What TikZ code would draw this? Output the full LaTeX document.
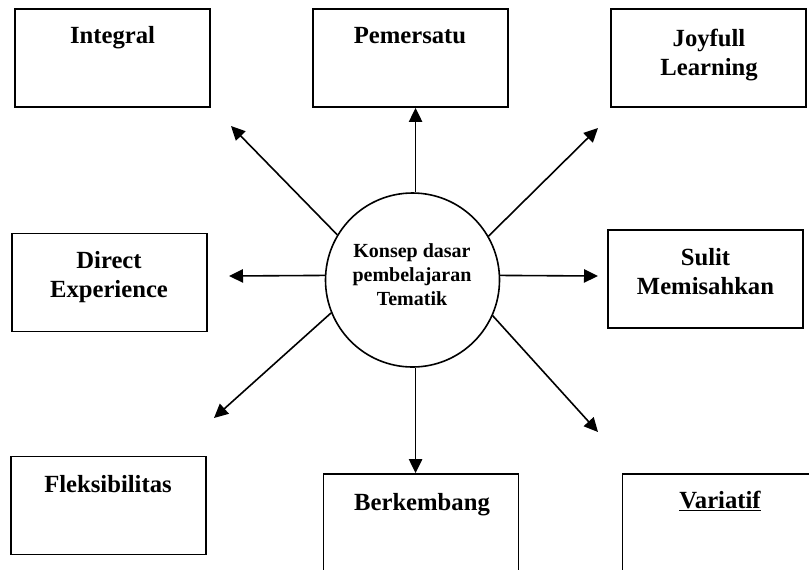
\documentclass[tikz,border=0pt]{standalone}
\usepackage{fontspec}
\setmainfont{Liberation Serif}
\usetikzlibrary{arrows.meta}
\begin{document}
\begin{tikzpicture}[x=0.75pt,y=-0.75pt,
  box/.style={draw,line width=1.4pt,rectangle,minimum width=146.25pt,minimum height=73.5pt,inner sep=0pt},
  lbl/.style={font=\bfseries\fontsize{18.5}{21.5}\selectfont,align=center,inner sep=0pt,anchor=base},
  ctext/.style={font=\bfseries\fontsize{15}{18}\selectfont,align=center,inner sep=0pt},
  hub/.style={draw,circle,line width=1.2pt,minimum size=130.5pt,inner sep=0pt},
  conn/.style={line width=1.2pt,-{Triangle[length=10.5pt,width=10pt]}}]
\clip (0,0) rectangle (809,569);
\fill[white] (0,0) rectangle (809,569);
% boxes
\node[box] (integral) at (112.5,58) {};
\node[box] (pemersatu) at (410.5,58) {};
\node[box] (joyfull) at (708.5,58) {};
\node[box] (direct) at (109.5,282.5) {};
\node[box] (sulit) at (705.5,279) {};
\node[box] (fleks) at (108.5,505.5) {};
\node[box] (berkembang) at (421,523) {};
\node[box] (variatif) at (720,523) {};
% labels
\node[lbl] (integralT) at (112.5,43) {Integral};
\node[lbl] (pemersatuT) at (410,43) {Pemersatu};
\node[lbl] (joyfullT) at (709,75) {Joyfull\\Learning};
\node[lbl] (directT) at (109,297) {Direct\\Experience};
\node[lbl] (sulitT) at (705.5,294) {Sulit\\Memisahkan};
\node[lbl] (fleksT) at (108,492) {Fleksibilitas};
\node[lbl] (berkembangT) at (422,510) {Berkembang};
\node[lbl] (variatifT) at (720,508) {\underline{Variatif}};
% hub
\node[hub] (c) at (412.5,280) {};
\node[ctext,anchor=base] (cT) at (412,305) {Konsep dasar\\pembelajaran\\Tematik};
% tips
\coordinate (tUL) at (231,126);
\coordinate (tUR) at (598,128);
\coordinate (tL) at (229,276);
\coordinate (tR) at (598,276);
\coordinate (tLL) at (214,418);
\coordinate (tLR) at (598,432);
% arrows
\draw[conn] (c.88) -- (c.88 |- pemersatu.south);
\draw[conn] (c.272) -- (c.272 |- berkembang.north);
\draw[conn] (c.149) -- (tUL);
\draw[conn] (c.30) -- (tUR);
\draw[conn] (c.177) -- (tL);
\draw[conn] (c.3) -- (tR);
\draw[conn] (c.202) -- (tLL);
\draw[conn] (c.336) -- (tLR);
\end{tikzpicture}
\end{document}
